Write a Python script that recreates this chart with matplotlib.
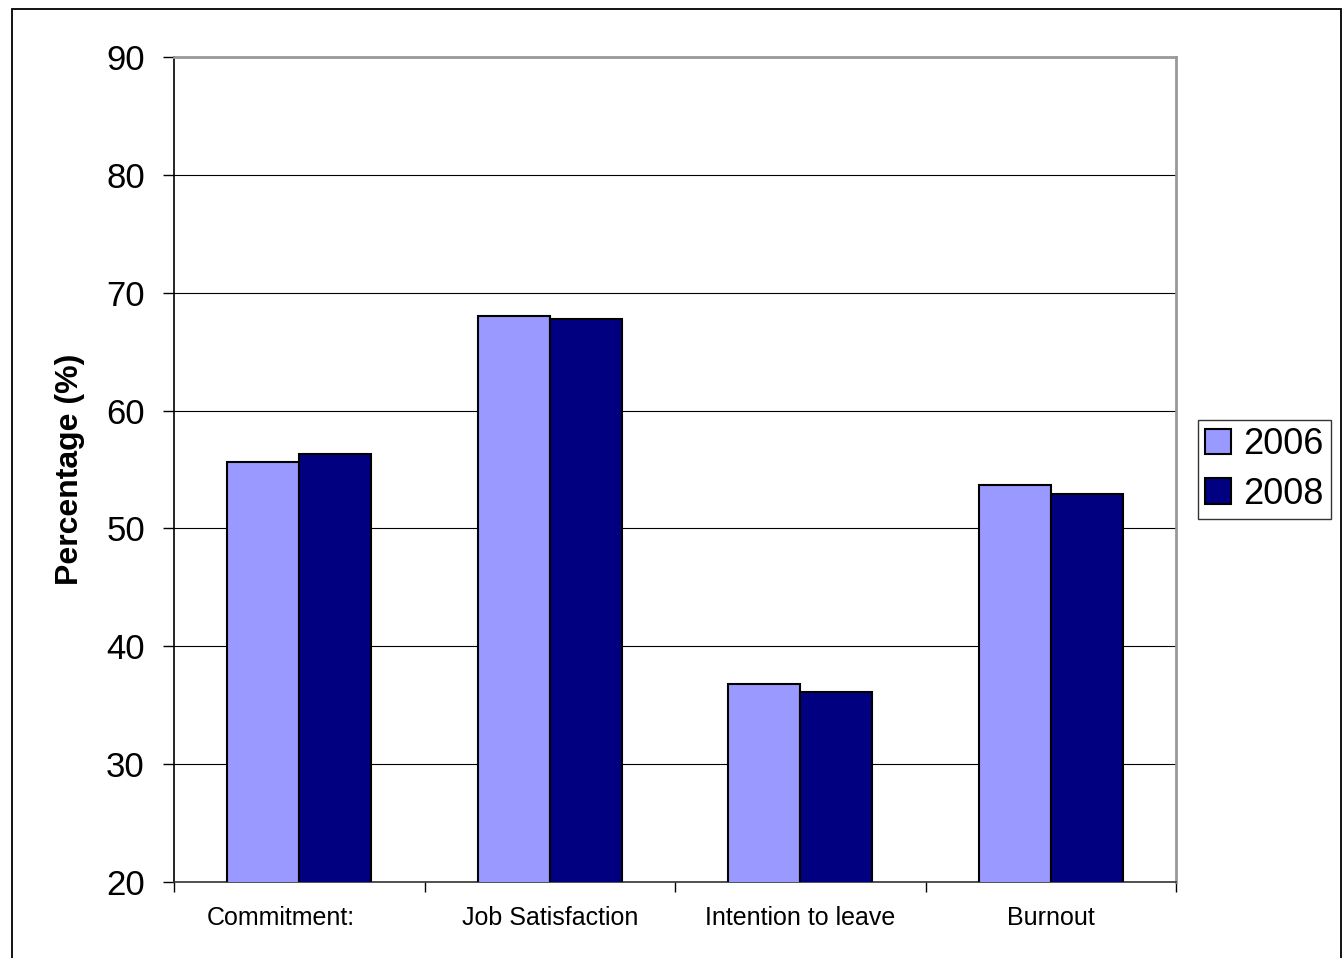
import numpy as np
import matplotlib
matplotlib.use('Agg')
import matplotlib.pyplot as plt
import matplotlib.transforms as mtransforms
from matplotlib.patches import Rectangle

# Font setup: Arial-like
matplotlib.rcParams['font.family'] = 'Liberation Sans'

# Data
categories = ['Commitment:', 'Job Satisfaction', 'Intention to leave', 'Burnout']
series_names = ['2006', '2008']
values_2006 = [55.6, 68.0, 36.8, 53.7]
values_2008 = [56.3, 67.8, 36.1, 52.9]
yticks = [20, 30, 40, 50, 60, 70, 80, 90]

colors = ['#9999FF', '#000080']

fig = plt.figure(figsize=(13.42, 9.58), dpi=100)
ax = fig.add_axes([0.1297, 0.0793, 0.7466, 0.8612])

x = np.arange(len(categories))
w = 0.287
ax.bar(x - w / 2, values_2006, w, color=colors[0], edgecolor='black',
       linewidth=1.5, label=series_names[0], zorder=3)
ax.bar(x + w / 2, values_2008, w, color=colors[1], edgecolor='black',
       linewidth=1.5, label=series_names[1], zorder=3)

ax.set_xlim(-0.5, len(categories) - 0.5)
ax.set_ylim(20, 90)

# Y axis
ax.set_yticks(yticks)
ax.tick_params(axis='y', which='major', direction='out', length=8, width=1,
               labelsize=25, pad=13)
ax.yaxis.grid(True, color='black', linewidth=0.8, zorder=0)
ax.set_ylabel('Percentage (%)', fontsize=23, fontweight='bold', labelpad=15)

# X axis: labels at centres, ticks at boundaries
ax.set_xticks(x)
ax.set_xticklabels(categories, fontsize=18)
ax.tick_params(axis='x', which='major', length=0, pad=17)
ax.set_xticks(np.arange(-0.5, len(categories)), minor=True)
ax.tick_params(axis='x', which='minor', direction='out', length=7, width=1)

# first label sits slightly left of its centre
first = ax.get_xticklabels()[0]
first.set_transform(first.get_transform() +
                    mtransforms.ScaledTranslation(-0.18, 0, fig.dpi_scale_trans))

# Spines
ax.spines['left'].set_color('black')
ax.spines['left'].set_linewidth(1.2)
ax.spines['bottom'].set_color('#333333')
ax.spines['bottom'].set_linewidth(1.2)
for s in ['top', 'right']:
    ax.spines[s].set_color('#999999')
    ax.spines[s].set_linewidth(2)

# Legend
leg = ax.legend(loc='center left', bbox_to_anchor=(1.022, 0.5), fontsize=26,
                frameon=True, fancybox=False, handlelength=0.7,
                handleheight=0.7, handletextpad=0.35, borderpad=0.2,
                labelspacing=0.4, borderaxespad=0)
leg.get_frame().set_edgecolor('black')
leg.get_frame().set_linewidth(1)

# Outer chart border
fig.patches.append(Rectangle((12 / 1342, -0.02), 1328.5 / 1342, 1.02 - 9.5 / 958,
                             transform=fig.transFigure, fill=False,
                             edgecolor='black', linewidth=1.3))

fig.savefig('out.png', dpi=100)
